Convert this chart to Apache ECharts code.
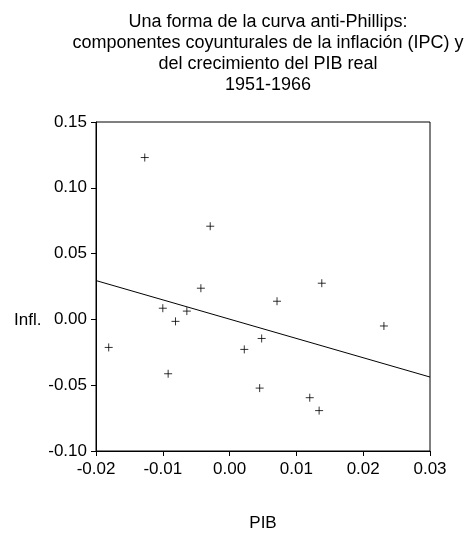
<!DOCTYPE html>
<html>
<head>
<meta charset="utf-8">
<script src="https://cdn.jsdelivr.net/npm/echarts@6/dist/echarts.min.js"></script>
<style>
  html, body { margin: 0; padding: 0; background: #fff; }
  #chart { width: 464px; height: 537px; }
</style>
</head>
<body>
<div id="chart"></div>
<script>
// componentes coyunturales, 1951-1966
const pib = [-0.0127, -0.0029, -0.0043, -0.0100, -0.0081, -0.0064, 0.0071, 0.0138,
  0.0231, -0.0181, -0.0092, 0.0022, 0.0048, 0.0045, 0.0120, 0.0134];
const infl = [0.123, 0.0708, 0.0237, 0.0085, -0.0015, 0.0063, 0.0138, 0.0275,
  -0.0050, -0.0213, -0.0413, -0.0228, -0.0145, -0.0522, -0.0595, -0.0693];
// recta de regresion
const fitX = [-0.02, 0.03];
const fitY = [0.0295, -0.0438];

const titleLines = [
  "Una forma de la curva anti-Phillips:",
  "componentes coyunturales de la inflación (IPC) y",
  "del crecimiento del PIB real",
  "1951-1966"
];

const font = "Liberation Sans, Arial, sans-serif";
const myChart = echarts.init(document.getElementById("chart"));

const option = {
  backgroundColor: "#fff",
  animation: false,
  title: {
    text: titleLines.join("\n"),
    left: 263,
    top: 7,
    textAlign: "center",
    textStyle: {
      fontFamily: font,
      fontSize: 18,
      fontWeight: "normal",
      color: "#000",
      lineHeight: 21
    }
  },
  grid: {
    left: 96,
    right: 34,
    top: 122,
    bottom: 82,
    show: true,
    borderColor: "#000",
    borderWidth: 1
  },
  graphic: [
    {
      type: "text",
      left: 14,
      top: 312,
      style: { text: "Infl.", font: "17px " + font, fill: "#000" }
    }
  ],
  xAxis: {
    type: "value",
    min: -0.02,
    max: 0.03,
    interval: 0.01,
    name: "PIB",
    nameLocation: "middle",
    nameGap: 64,
    nameTextStyle: { fontFamily: font, fontSize: 17, color: "#000" },
    splitLine: { show: false },
    axisLine: { onZero: false, lineStyle: { color: "#000", width: 1 } },
    axisTick: { inside: false, length: 5, lineStyle: { color: "#000" } },
    axisLabel: {
      fontFamily: font,
      fontSize: 17,
      color: "#000",
      margin: 10,
      formatter: (v) => v.toFixed(2)
    }
  },
  yAxis: {
    type: "value",
    min: -0.1,
    max: 0.15,
    interval: 0.05,
    splitLine: { show: false },
    axisLine: { onZero: false, lineStyle: { color: "#000", width: 1 } },
    axisTick: { inside: false, length: 5, lineStyle: { color: "#000" } },
    axisLabel: {
      fontFamily: font,
      fontSize: 17,
      color: "#000",
      margin: 9,
      formatter: (v) => v.toFixed(2)
    }
  },
  series: [
    {
      type: "scatter",
      data: pib.map((x, i) => [x, infl[i]]),
      symbol: "path://M0,4L8,4M4,0L4,8",
      symbolSize: 8,
      itemStyle: { color: "none", borderColor: "#000", borderWidth: 1 }
    },
    {
      type: "line",
      data: fitX.map((x, i) => [x, fitY[i]]),
      showSymbol: false,
      symbol: "none",
      lineStyle: { color: "#000", width: 1 }
    }
  ]
};

myChart.setOption(option);
</script>
</body>
</html>
